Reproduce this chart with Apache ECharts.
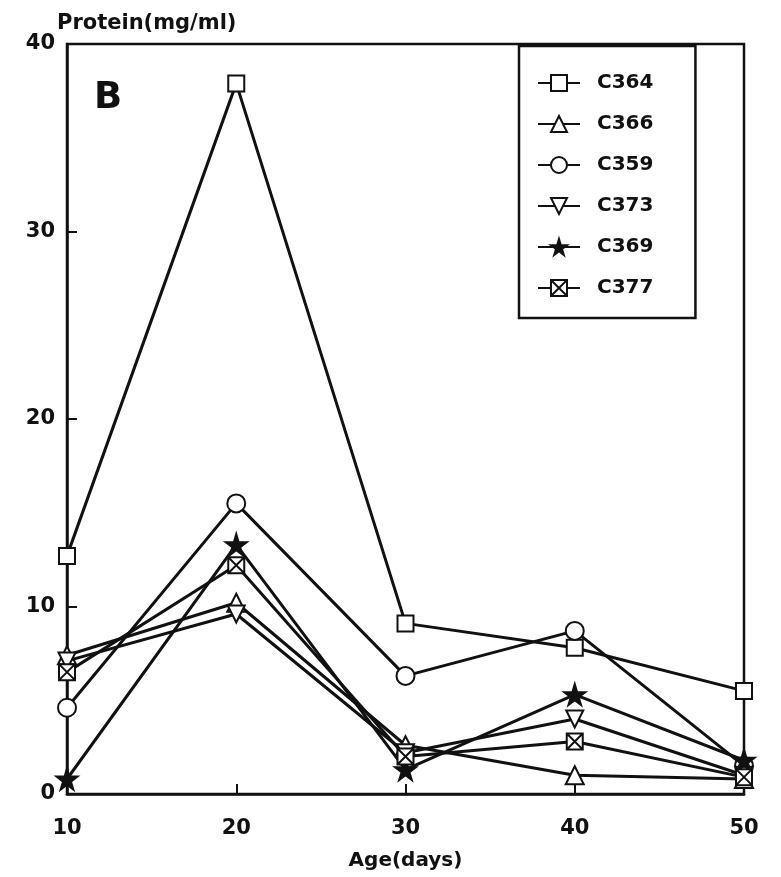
<!DOCTYPE html>
<html>
<head>
<meta charset="utf-8">
<script src="https://cdn.jsdelivr.net/npm/echarts@6/dist/echarts.min.js"></script>
<style>
html,body{margin:0;padding:0;background:#fff;}
#chart{width:781px;height:877px;}
</style>
</head>
<body>
<div id="chart"></div>
<script>
const days = [10, 20, 30, 40, 50];
const seriesNames = ['C364', 'C366', 'C359', 'C373', 'C369', 'C377'];
const C364 = [12.7, 37.9, 9.1, 7.8, 5.5];
const C366 = [7.4, 10.2, 2.6, 1.0, 0.8];
const C359 = [4.6, 15.5, 6.3, 8.7, 1.5];
const C373 = [7.1, 9.6, 2.2, 4.0, 1.0];
const C369 = [0.8, 13.3, 1.3, 5.3, 1.8];
const C377 = [6.5, 12.2, 2.0, 2.8, 0.9];
const yTicks = [0, 10, 20, 30, 40];
const xTicks = [10, 20, 30, 40, 50];

const values = [C364, C366, C359, C373, C369, C377];
const symbols = [
  'rect',
  'triangle',
  'circle',
  'path://M0,0L10,0L5,9Z',
  'path://M50,0L61,35L98,35L68,57L79,91L50,70L21,91L32,57L2,35L39,35Z',
  'path://M0,0L10,0L10,10L0,10ZM0,0L10,10M10,0L0,10'
];
const sizes = [16, 18, 18, 17, 21, 16];
const fills = ['#fff', '#fff', '#fff', '#fff', '#111', '#fff'];
const FONT = 'DejaVu Sans';

const chart = echarts.init(document.getElementById('chart'), null, {renderer: 'canvas'});
const series = seriesNames.map((name, i) => ({
  name: name,
  type: 'line',
  data: days.map((d, j) => [d, values[i][j]]),
  symbol: symbols[i],
  symbolSize: sizes[i],
  showAllSymbol: true,
  lineStyle: {color: '#111', width: 3},
  itemStyle: {color: fills[i], borderColor: '#111', borderWidth: 2},
  emphasis: {disabled: true},
  animation: false,
  z: 3 + i
}));

chart.setOption({
  backgroundColor: '#fff',
  animation: false,
  grid: {left: 67, right: 37, top: 44, bottom: 83, show: true, borderColor: '#111', borderWidth: 2.5, backgroundColor: 'transparent'},
  title: {
    text: 'Protein(mg/ml)', left: 52, top: 8,
    textStyle: {fontFamily: FONT, fontWeight: 'bold', fontSize: 21, color: '#111'}
  },
  graphic: [{
    type: 'text', left: 94, top: 80,
    style: {text: 'B', font: 'bold 37px "DejaVu Sans"', fill: '#111'}
  }],
  legend: {
    data: seriesNames,
    orient: 'vertical',
    left: 519, top: 46,
    padding: [27, 42, 20, 18],
    borderColor: '#111', borderWidth: 2.5,
    backgroundColor: '#fff',
    itemWidth: 42, itemHeight: 20, itemGap: 21,
    textStyle: {fontFamily: FONT, fontWeight: 'bold', fontSize: 20, color: '#111', lineHeight: 20, padding: [0, 0, 0, 12]},
    selectedMode: false
  },
  xAxis: {
    type: 'value', min: 10, max: 50, interval: 10,
    name: 'Age(days)', nameLocation: 'middle', nameGap: 57,
    nameTextStyle: {fontFamily: FONT, fontWeight: 'bold', fontSize: 20, color: '#111'},
    axisLine: {show: true, lineStyle: {color: '#111', width: 2.5}},
    axisTick: {show: true, inside: true, length: 10, lineStyle: {color: '#111', width: 2}},
    axisLabel: {fontFamily: FONT, fontWeight: 'bold', fontSize: 21, color: '#111', margin: 24,
      formatter: v => xTicks.indexOf(v) >= 0 ? String(v) : ''},
    splitLine: {show: false}
  },
  yAxis: {
    type: 'value', min: 0, max: 40, interval: 10,
    axisLine: {show: true, lineStyle: {color: '#111', width: 2.5}},
    axisTick: {show: true, inside: true, length: 10, lineStyle: {color: '#111', width: 2}},
    axisLabel: {fontFamily: FONT, fontWeight: 'bold', fontSize: 21, color: '#111', margin: 12,
      formatter: v => yTicks.indexOf(v) >= 0 ? String(v) : ''},
    splitLine: {show: false}
  },
  series: series
});
</script>
</body>
</html>
